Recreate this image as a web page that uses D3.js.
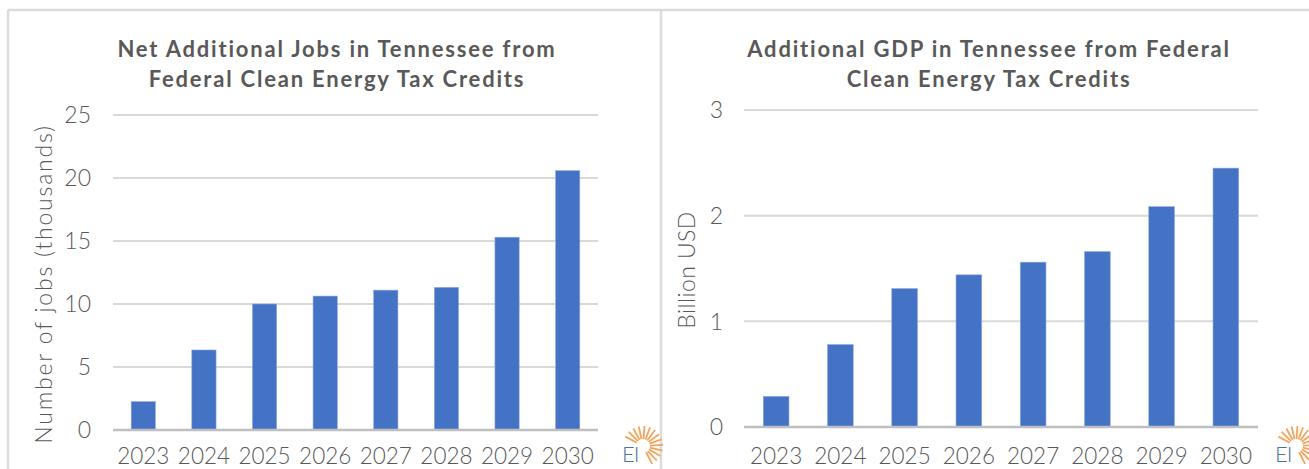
<!DOCTYPE html>
<html>
<head>
<meta charset="utf-8">
<script src="https://cdn.jsdelivr.net/npm/d3@7"></script>
<style>
  body { margin: 0; background: #fff; }
  svg { display: block; }
</style>
</head>
<body>
<div id="graph"></div>
<script>
var width = 1309, height = 469

var years = ['2023', '2024', '2025', '2026', '2027', '2028', '2029', '2030']
var jobs = [2.25, 6.35, 10.0, 10.63, 11.1, 11.32, 15.3, 20.58]
var gdp = [0.29, 0.78, 1.31, 1.44, 1.56, 1.66, 2.085, 2.45]
var jobsTicks = [0, 5, 10, 15, 20, 25]
var gdpTicks = [0, 1, 2, 3]
var jobsTitle = ['Net Additional Jobs in Tennessee from', 'Federal Clean Energy Tax Credits']
var gdpTitle = ['Additional GDP in Tennessee from Federal', 'Clean Energy Tax Credits']
var jobsLabel = 'Number of jobs (thousands)'
var gdpLabel = 'Billion USD'

var gray = '#595959', grid = '#d9d9d9', blue = '#4472c4'
var font = 'Lato, "Open Sans", sans-serif'

var svg = d3.select('#graph').html('').append('svg')
    .attr('width', width).attr('height', height)

// panel frames
var frame = svg.append('g').attr('stroke', '#dcdcdc').attr('stroke-width', 2.5)
frame.append('line').attr('x1', 8).attr('x2', width).attr('y1', 10).attr('y2', 10)
frame.append('line').attr('x1', 8).attr('x2', 8).attr('y1', 10).attr('y2', height)
frame.append('line').attr('x1', 661).attr('x2', 661).attr('y1', 10).attr('y2', height)

var panels = [
  {x0: 8, values: jobs, ticks: jobsTicks, max: 25, title: jobsTitle, label: jobsLabel,
    plot: [113, 598], y0: 430, y1: 115, tickX: 91, labelX: 44, labelY: 284, labelSp: 1.8, titleX: 337},
  {x0: 661, values: gdp, ticks: gdpTicks, max: 3, title: gdpTitle, label: gdpLabel,
    plot: [744, 1258], y0: 427, y1: 110, tickX: 723, labelX: 687, labelY: 270, labelSp: 0.4, titleX: 989}
]

panels.forEach(drawPanel)

function drawPanel(p){
  var g = svg.append('g')

  var x = d3.scaleBand().domain(years).range(p.plot).paddingInner(0.6).paddingOuter(0.3)
  var y = d3.scaleLinear().domain([0, p.max]).range([p.y0, p.y1])

  // gridlines
  g.append('g').selectAll('line').data(p.ticks.filter(function(d){ return d > 0 }))
    .join('line')
      .attr('x1', p.plot[0]).attr('x2', p.plot[1])
      .attr('y1', y).attr('y2', y)
      .attr('stroke', grid).attr('stroke-width', 2)

  // y tick labels
  g.append('g').selectAll('text').data(p.ticks)
    .join('text')
      .attr('x', p.tickX).attr('y', y).attr('dy', '0.36em')
      .attr('text-anchor', 'end')
      .style('font', '300 23px ' + font).attr('fill', gray)
      .text(function(d){ return d })

  // bars
  g.append('g').selectAll('rect').data(p.values)
    .join('rect')
      .attr('x', function(d, i){ return x(years[i]) })
      .attr('width', x.bandwidth())
      .attr('y', y)
      .attr('height', function(d){ return y(0) - y(d) })
      .attr('fill', blue)
      .attr('stroke', '#8faadc').attr('stroke-width', 0.6)

  // baseline
  g.append('line')
      .attr('x1', p.plot[0]).attr('x2', p.plot[1])
      .attr('y1', y(0)).attr('y2', y(0))
      .attr('stroke', '#bfbfbf').attr('stroke-width', 2.5)

  // x labels
  g.append('g').selectAll('text').data(years)
    .join('text')
      .attr('x', function(d){ return x(d) + x.bandwidth() / 2 })
      .attr('y', 464)
      .attr('text-anchor', 'middle')
      .style('font', '300 22.5px ' + font).attr('fill', gray)
      .text(function(d){ return d })

  // axis title
  g.append('text')
      .attr('transform', 'translate(' + p.labelX + ',' + p.labelY + ')rotate(-90)')
      .attr('dy', '0.36em')
      .attr('text-anchor', 'middle')
      .style('font', '300 23px ' + font).style('letter-spacing', p.labelSp + 'px')
      .attr('fill', gray)
      .text(p.label)

  // chart title
  g.append('g').selectAll('text').data(p.title)
    .join('text')
      .attr('x', p.titleX).attr('y', function(d, i){ return 57 + i * 29.5 })
      .attr('text-anchor', 'middle')
      .style('font', 'bold 22px ' + font).style('letter-spacing', '1.8px')
      .attr('fill', gray)
      .text(function(d){ return d })

  drawLogo(g, p.x0 + 614, 446)
}

function drawLogo(g, lx, ly){
  var cx = lx + 21, cy = ly
  var rays = d3.range(14).map(function(i){ return (-152 + i * 215 / 13) * Math.PI / 180 })
  g.append('g').selectAll('line').data(rays)
    .join('line')
      .attr('x1', function(a){ return cx + 7 * Math.cos(a) })
      .attr('y1', function(a){ return cy + 7 * Math.sin(a) })
      .attr('x2', function(a){ return cx + 20 * Math.cos(a) })
      .attr('y2', function(a){ return cy + 20 * Math.sin(a) })
      .attr('stroke', '#f4a35a').attr('stroke-width', 1.8)
  g.append('text')
      .attr('x', lx).attr('y', ly + 16)
      .style('font', '300 22px ' + font).style('letter-spacing', '-1px')
      .attr('fill', '#4f7391')
      .text('EI')
}
</script>
</body>
</html>
